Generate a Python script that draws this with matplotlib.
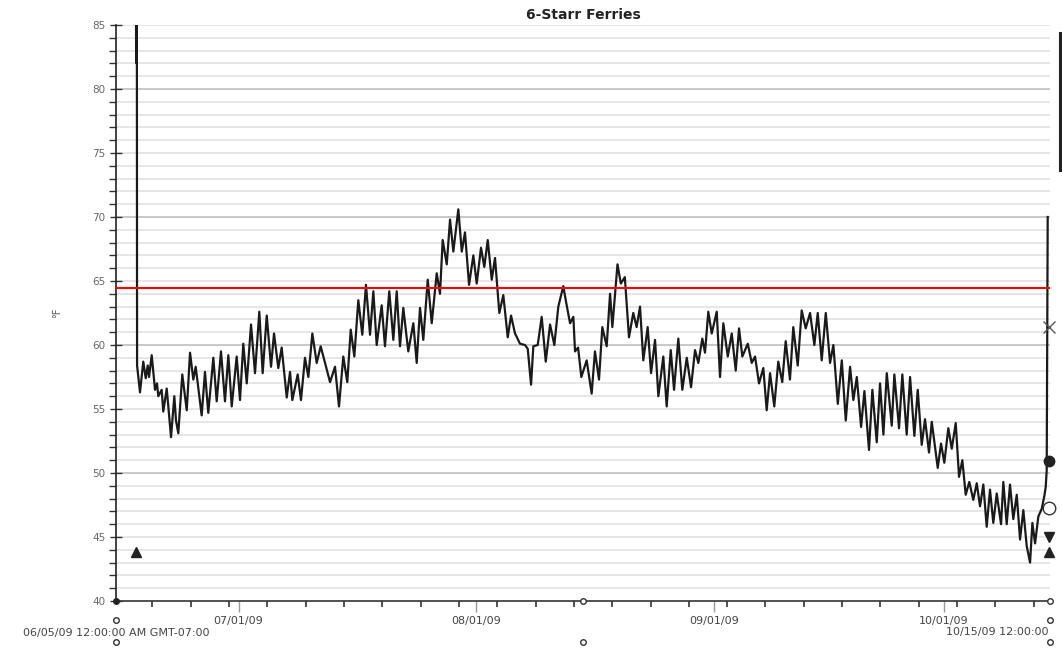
import datetime as dt
import numpy as np
import matplotlib
matplotlib.use("Agg")
import matplotlib.pyplot as plt
import matplotlib.dates as mdates
from matplotlib.lines import Line2D

# ---------------- data ----------------
title = "6-Starr Ferries"
y_label = "°F"
start_label = "06/05/09 12:00:00 AM GMT-07:00"
end_label = "10/15/09 12:00:00"
axis_start = dt.datetime(2009, 6, 15)
axis_days = 121.88

# days since axis start, temperature (°F)
reading_day = [
    2.60, 2.63, 2.66, 2.69, 2.72, 2.75,
    3.13, 3.56, 3.88, 4.14, 4.31, 4.66, 5.09, 5.35, 5.52, 5.96, 6.17, 6.62, 6.83, 7.18, 7.61, 7.83,
    8.13, 8.65, 9.23, 9.66, 10.09, 10.40, 11.18, 11.61, 12.04, 12.70, 13.14, 13.70, 14.22, 14.66,
    15.10, 15.75, 16.18, 16.61, 17.06, 17.62, 18.14, 18.70, 19.14, 19.67, 20.23, 20.62, 21.18,
    21.62, 22.28, 22.71,
    23.01, 23.71, 24.14, 24.66, 25.10, 25.62, 26.19, 26.71, 27.27, 27.93, 28.58, 29.10, 29.66,
    30.18, 30.63, 31.10, 31.62, 32.14, 32.62, 33.15, 33.58, 34.02, 34.67, 35.10, 35.66, 36.19,
    36.63, 37.06, 37.49, 38.14, 38.80, 39.24, 39.67, 40.10, 40.68, 41.20, 41.85, 42.28, 42.63,
    43.16, 43.59,
    44.02, 44.67, 45.12, 45.54, 46.07, 46.63, 47.07, 47.63, 48.06, 48.51, 49.03, 49.46, 50.02,
    50.54, 51.12, 51.55, 52.07, 52.72, 53.37, 53.73, 54.16, 54.46, 55.03, 55.55, 56.08, 56.64,
    57.20, 57.72, 58.37, 58.69, 59.25, 59.68, 59.90, 60.30, 60.72, 61.42, 62.07, 62.50, 63.03,
    63.46, 64.03, 64.47,
    64.77, 65.44, 65.88, 66.40, 66.94, 67.50, 67.94, 68.38, 68.81, 69.38, 69.82, 70.34, 70.77,
    71.42, 71.86, 72.39, 72.82, 73.38, 73.90, 74.48, 75.04, 75.56, 75.99, 76.51, 76.86, 77.29,
    77.74, 78.39, 78.82, 79.25, 79.83, 80.35, 80.87, 81.30, 81.73, 82.44, 82.96, 83.39, 83.91,
    84.47, 84.91, 85.35,
    85.90, 86.42, 86.94, 87.39, 87.95, 88.38, 88.96, 89.48, 90.00, 90.57, 91.13, 91.57, 92.09,
    92.62, 93.18, 93.61, 94.19, 94.71, 95.23, 95.79, 96.22, 96.67, 97.23, 97.66, 98.26, 98.70,
    99.27, 99.70, 100.14, 100.58, 101.23, 101.57, 102.18, 102.61, 103.18, 103.62, 104.18, 104.62,
    105.14, 105.57, 106.09,
    106.45, 107.23, 107.66, 108.09, 108.61, 109.06, 109.58, 110.01, 110.44, 110.88, 111.35,
    111.87, 112.32, 112.75, 113.18, 113.62, 114.05, 114.48, 114.93, 115.49, 115.79, 116.23,
    116.66, 117.09, 117.54, 117.97, 118.40, 118.84, 119.28, 119.58, 119.93, 120.36, 120.80,
    121.14, 121.32, 121.45, 121.58,
]
reading_temp = [
    88, 82.2, 88, 82.0, 88, 58.4,
    56.3, 58.7, 57.4, 58.4, 57.5, 59.2, 56.5, 57.0, 56.0, 56.5, 54.8, 56.6, 55.2, 52.8, 56.0, 54.1,
    53.1, 57.7, 54.9, 59.4, 57.3, 58.3, 54.5, 57.9, 54.7, 59.0, 55.6, 59.5, 55.6, 59.2,
    55.2, 59.1, 55.7, 60.1, 57.0, 61.6, 57.8, 62.6, 57.8, 62.3, 58.3, 60.9, 58.2,
    59.8, 55.9, 57.9,
    55.7, 57.7, 55.7, 59.0, 57.5, 60.9, 58.6, 59.9, 58.6, 57.1, 58.3, 55.2, 59.1,
    57.1, 61.2, 59.1, 63.5, 60.8, 64.7, 60.8, 64.2, 60.0, 63.1, 59.9, 64.2, 60.4,
    64.2, 59.9, 62.9, 59.5, 61.7, 58.6, 62.9, 60.4, 65.1, 61.7, 65.6, 64.0, 68.2,
    66.3, 69.8,
    67.3, 70.6, 67.3, 68.8, 64.7, 67.0, 64.8, 67.6, 66.1, 68.2, 65.1, 66.8, 62.5,
    63.9, 60.6, 62.3, 60.9, 60.1, 60.0, 59.7, 56.9, 59.9, 60.0, 62.2, 58.7, 61.6,
    60.0, 63.0, 64.6, 63.5, 61.7, 62.2, 59.5, 59.8, 57.5, 58.8, 56.2, 59.5, 57.3,
    61.4, 59.9, 64.0,
    61.4, 66.3, 64.8, 65.3, 60.6, 62.5, 61.4, 63.0, 58.8, 61.4, 57.8, 60.4, 56.0,
    59.1, 55.2, 59.6, 56.5, 60.5, 56.5, 59.0, 56.7, 59.6, 58.6, 60.5, 59.4, 62.6,
    60.9, 62.6, 57.5, 61.7, 59.1, 60.9, 58.0, 61.3, 59.1, 60.1, 58.6, 59.1, 57.0,
    58.2, 54.9, 57.8,
    55.2, 58.7, 57.1, 60.3, 57.3, 61.4, 58.4, 62.7, 61.3, 62.5, 60.0, 62.5, 58.8,
    62.5, 58.6, 60.0, 55.4, 58.8, 54.1, 58.3, 55.7, 57.5, 53.6, 56.4, 51.8, 56.5,
    52.4, 57.0, 53.0, 57.8, 53.7, 57.7, 53.5, 57.7, 53.0, 57.5, 52.9, 56.5,
    52.2, 54.2, 51.6,
    54.0, 50.4, 52.3, 50.8, 53.5, 51.9, 53.9, 49.7, 51.0, 48.3, 49.3,
    47.9, 49.2, 47.4, 49.1, 45.8, 48.7, 46.1, 48.4, 46.0, 49.3, 46.0,
    49.1, 46.4, 48.3, 44.8, 47.1, 44.3, 43.0, 46.1, 44.5, 46.6, 47.2,
    48.2, 48.9, 50.2, 70.0,
]

threshold = 64.45

# summary markers at right end
summary_day = 121.75
summary_temp = [61.4, 50.9, 47.3, 45.0, 43.8]
summary_marker = ["x", "o", "o", "v", "^"]
start_marker_day = 2.55
start_marker_temp = 43.8

# ---------------- plot ----------------
fig = plt.figure(figsize=(10.62, 6.49), dpi=100)
ax = fig.add_axes([116 / 1062, 1 - 601 / 649, (1050 - 116) / 1062, (601 - 25) / 649])

x0 = mdates.date2num(axis_start)
xs = x0 + np.array(reading_day)

# grid lines
for v in range(41, 85):
    col = "#c4c4c4" if v % 10 == 0 else "#e4e4e4"
    ax.axhline(v, color=col, lw=1.3, zorder=0)
ax.axhline(85, color="#e4e4e4", lw=1.3, zorder=0)

ax.plot(xs, reading_temp, color="#1a1a1a", lw=1.6, zorder=3)
ax.axhline(threshold, color="#ff0000", lw=1.5, zorder=4)

sx = x0 + summary_day
for i, (v, m) in enumerate(zip(summary_temp, summary_marker)):
    if m == "x":
        ax.plot([sx], [v], marker="x", ms=9, mew=1.0, color="#555555", zorder=5, clip_on=False)
    elif i == 2:
        ax.plot([sx], [v], marker="o", ms=9, mfc="white", mec="#333333", mew=1.0, zorder=5, clip_on=False)
    else:
        ax.plot([sx], [v], marker=m, ms=7.5, color="#222222", zorder=5, clip_on=False)
ax.plot([x0 + start_marker_day], [start_marker_temp], marker="^", ms=7.5, color="#222222", zorder=5)

ax.set_xlim(x0, x0 + axis_days)
ax.set_ylim(40, 85)

# spines
for s in ["top", "right"]:
    ax.spines[s].set_visible(False)
ax.spines["left"].set_color("#222222")
ax.spines["bottom"].set_color("#333333")
ax.spines["left"].set_linewidth(1.2)
ax.spines["bottom"].set_linewidth(1.2)

# y ticks
ax.set_yticks(np.arange(40, 86, 5))
ax.set_yticks(np.arange(40, 86, 1), minor=True)
ax.tick_params(axis="y", which="major", direction="inout", length=9, width=1.0,
               color="#333333", labelsize=7.5, labelcolor="#666666", pad=3)
ax.tick_params(axis="y", which="minor", direction="out", length=5, width=1.0, color="#333333")

# x ticks
ax.xaxis.set_major_locator(mdates.MonthLocator(bymonthday=1))
ax.xaxis.set_major_formatter(mdates.DateFormatter("%m/%d/%y"))
ax.set_xticks(np.arange(x0 + 4.75, x0 + axis_days, 5), minor=True)
ax.tick_params(axis="x", which="major", direction="out", length=8, width=1.0,
               color="#999999", labelsize=8, labelcolor="#444444", pad=3)
ax.tick_params(axis="x", which="minor", direction="out", length=4, width=1.2, color="#333333")

ax.set_title(title, fontsize=10, fontweight="bold", color="#222222", pad=4)
ax.set_ylabel(y_label, fontsize=7, color="#555555", labelpad=22)

# end labels
ax.text(0.0, -0.055, start_label, transform=ax.transAxes, ha="center", va="center",
        fontsize=8, color="#444444")
ax.text(946 / 1062, 1 - 632 / 649, end_label, transform=fig.transFigure, ha="left",
        va="center", fontsize=8, color="#444444")

# axis handle symbols
for xf, yfs in [(0.0, [-0.033, -0.071]), (0.5, [0.0, -0.071]), (1.0, [0.0, -0.033, -0.071])]:
    for yf in yfs:
        ax.plot([xf], [yf], transform=ax.transAxes, marker="o", ms=4, mfc="white",
                mec="#333333", mew=1.0, clip_on=False, zorder=6)
ax.plot([0.0], [0.0], transform=ax.transAxes, marker="o", ms=4, color="#222222",
        clip_on=False, zorder=6)

# partial dark bar at right edge
fig.add_artist(Line2D([1060 / 1062, 1060 / 1062], [1 - 33 / 649, 1 - 170 / 649],
                      transform=fig.transFigure, color="#222222", lw=2.2))

fig.savefig("out.png", dpi=100)
